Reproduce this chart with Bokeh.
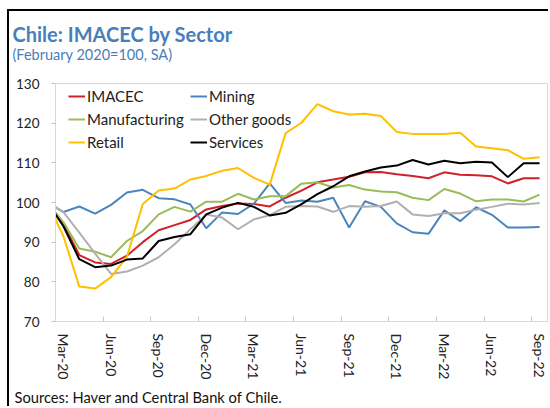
from bokeh.plotting import figure
from bokeh.models import Range1d, FixedTicker, Legend, LegendItem, Title
from bokeh.embed import file_html
from bokeh.resources import INLINE

# Months: Feb-20 (base = 100) through Sep-22
MONTHS = ["Feb-20", "Mar-20", "Apr-20", "May-20", "Jun-20", "Jul-20", "Aug-20", "Sep-20",
          "Oct-20", "Nov-20", "Dec-20", "Jan-21", "Feb-21", "Mar-21", "Apr-21", "May-21",
          "Jun-21", "Jul-21", "Aug-21", "Sep-21", "Oct-21", "Nov-21", "Dec-21", "Jan-22",
          "Feb-22", "Mar-22", "Apr-22", "May-22", "Jun-22", "Jul-22", "Aug-22", "Sep-22"]

TICK_LABELS = ["Mar-20", "Jun-20", "Sep-20", "Dec-20", "Mar-21", "Jun-21",
               "Sep-21", "Dec-21", "Mar-22", "Jun-22", "Sep-22"]

IMACEC = [100, 94.5, 86.75, 84.9, 84.5, 86.6, 90.0, 93.0, 94.3, 95.6, 98.25, 99.1,
          99.75, 99.6, 99.0, 101.2, 103.0, 105.1, 105.8, 106.5, 107.6, 107.7, 107.1,
          106.7, 106.1, 107.6, 107.0, 106.9, 106.6, 104.8, 106.1, 106.1]
MINING = [100, 97.6, 99.0, 97.2, 99.4, 102.5, 103.2, 101.1, 100.8, 99.5, 93.5, 97.5,
          97.1, 99.7, 104.8, 99.9, 100.5, 100.2, 101.2, 93.7, 100.3, 98.9, 94.75,
          92.5, 92.1, 98.0, 95.3, 98.8, 96.9, 93.7, 93.7, 93.8]
MANUFACTURING = [100, 95.0, 88.4, 87.6, 86.2, 90.3, 92.8, 97.0, 98.9, 97.7, 100.2, 100.2,
                 102.2, 100.75, 101.6, 101.6, 104.75, 105.1, 103.8, 104.4, 103.25, 102.8,
                 102.6, 101.2, 100.6, 103.4, 102.25, 100.3, 100.75, 100.75, 100.25, 102.0]
OTHER_GOODS = [100, 97.6, 92.4, 87.1, 82.0, 82.6, 84.1, 86.2, 89.5, 93.25, 97.0, 96.2,
               93.25, 95.75, 96.8, 98.9, 99.1, 99.0, 97.65, 99.1, 98.9, 99.1, 100.25,
               97.0, 96.6, 97.3, 97.3, 98.2, 98.9, 99.7, 99.5, 99.9]
RETAIL = [100, 91.5, 78.8, 78.3, 81.2, 86.3, 99.6, 103.0, 103.5, 105.8, 106.7, 108.0,
          108.7, 106.2, 104.5, 117.5, 120.1, 124.8, 123.0, 122.2, 122.4, 121.8, 117.8,
          117.3, 117.25, 117.25, 117.6, 114.1, 113.7, 113.2, 111.0, 111.4]
SERVICES = [100, 94.0, 85.7, 83.7, 84.1, 85.6, 85.9, 90.3, 91.3, 92.0, 97.0, 98.7,
            99.9, 98.9, 96.75, 97.4, 99.6, 102.1, 104.1, 106.6, 107.8, 108.8, 109.3,
            110.7, 109.6, 110.5, 109.9, 110.3, 110.1, 106.4, 109.9, 109.9]

SERIES = [("IMACEC", IMACEC, "#D0202A"),
          ("Mining", MINING, "#4A86BE"),
          ("Manufacturing", MANUFACTURING, "#9BBB59"),
          ("Other goods", OTHER_GOODS, "#B0B0B0"),
          ("Retail", RETAIL, "#FFC000"),
          ("Services", SERVICES, "#000000")]

FONT = "Lato"
BLUE = "#4A7EBB"
GRAY = "#D9D9D9"

x = [i - 1 for i in range(len(MONTHS))]  # Mar-20 = 0

p = figure(width=541, height=397, output_backend="svg", toolbar_location=None,
           title=None, x_range=Range1d(-0.5, len(MONTHS) - 1.5),
           y_range=Range1d(70, 130),
           min_border_left=46, min_border_top=72, min_border_right=3,
           min_border_bottom=85)
p.styles = {"margin-left": "7px", "margin-top": "9px",
            "border-left": "2px solid black", "border-top": "2px solid black"}
p.background_fill_color = "white"
p.border_fill_color = "white"
p.outline_line_color = GRAY
p.outline_line_width = 1
p.xgrid.visible = False
p.ygrid.visible = False

items = []
for name, vals, color in SERIES:
    r = p.line(x, vals, line_color=color, line_width=2)
    items.append(LegendItem(label=name, renderers=[r]))

major = [i for i in range(0, len(MONTHS) - 1, 3)]
minor = [i - 0.5 for i in major]
p.xaxis.ticker = FixedTicker(ticks=major, minor_ticks=minor)
p.xaxis.major_label_overrides = {t: lab for t, lab in zip(major, TICK_LABELS)}
p.xaxis.major_label_orientation = "vertical"
p.xaxis.major_tick_line_color = None
p.xaxis.major_tick_out = 0
p.xaxis.major_tick_in = 0
p.xaxis.minor_tick_line_color = "#C8C8C8"
p.xaxis.minor_tick_in = 5
p.xaxis.minor_tick_out = 0
p.xaxis.axis_line_color = GRAY
p.xaxis.major_label_standoff = 12
p.xaxis.major_label_text_font = FONT
p.xaxis.major_label_text_font_size = "14px"
p.xaxis.major_label_text_color = "#222222"

p.yaxis.ticker = FixedTicker(ticks=[70, 80, 90, 100, 110, 120, 130])
p.yaxis.axis_line_color = GRAY
p.yaxis.major_tick_line_color = "#BFBFBF"
p.yaxis.major_tick_out = 4
p.yaxis.major_tick_in = 0
p.yaxis.minor_tick_line_color = None
p.yaxis.major_label_standoff = 12
p.yaxis.major_label_text_font = FONT
p.yaxis.major_label_text_font_size = "13.5px"
p.yaxis.major_label_text_color = "#222222"

legend = Legend(items=items, orientation="horizontal", ncols=2,
                location=(13, 169), margin=0, padding=4, spacing=3,
                glyph_width=17, glyph_height=20, label_height=20,
                label_width=100, label_standoff=2,
                label_text_font=FONT, label_text_font_size="15px",
                label_text_color="#222222",
                border_line_color=None, background_fill_alpha=0)
p.add_layout(legend, "center")

# blank spacer between the plot frame and the subtitle
p.add_layout(Title(text=" ", text_font=FONT, text_font_size="10px",
                   standoff=4.5), "above")
p.add_layout(Title(text="(February 2020=100, SA)", align="left", offset=-43,
                   vertical_align="top", text_font=FONT, text_font_size="14.5px",
                   text_color=BLUE, text_font_style="normal", standoff=0), "above")
p.add_layout(Title(text="Chile: IMACEC by Sector", align="left", offset=-43,
                   vertical_align="bottom", text_font=FONT, text_font_size="20px",
                   text_color=BLUE, text_font_style="bold", standoff=0), "above")
p.add_layout(Title(text="Sources: Haver and Central Bank of Chile.", align="left",
                   offset=-41, text_font=FONT, text_font_size="14.7px",
                   text_color="#111111", text_font_style="normal",
                   standoff=6), "below")

open("out.html", "w").write(file_html(p, INLINE))
